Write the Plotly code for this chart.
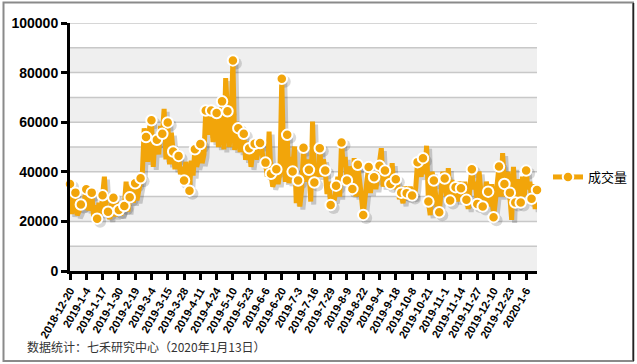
import plotly.graph_objects as go

# ---- data (成交量, one value per trading day) ----
volume = [
    35100, 23000, 28000, 31600, 22500, 24000, 26800, 25000, 29000, 33000, 24500, 27000,
    31600, 22000, 26500, 21100, 27500, 22500, 30500, 38000, 26000, 23900, 21000, 27000,
    29500, 22000, 27500, 24600, 22500, 25000, 26200, 36000, 24000, 29700, 35000, 27500,
    35400, 28500, 33000, 37400, 40000, 57500, 54000, 44000, 58000, 60800, 42000, 55000,
    52900, 47000, 58500, 55300, 65400, 45000, 59900, 43000, 55700, 48200, 41000, 48500,
    46400, 39000, 42000, 36500, 44000, 38000, 32400, 44500, 38500, 49100, 42000, 45000,
    51200, 43500, 47000, 64700, 55000, 60000, 64700, 52000, 64000, 63700, 50000, 58000,
    68400, 49000, 77800, 64400, 50000, 62000, 84900, 48800, 60000, 57600, 48000, 53000,
    55300, 44800, 52000, 49500, 42000, 48000, 51300, 45000, 48500, 51600, 49000, 43000,
    43700, 38000, 56200, 39200, 34000, 36500, 41000, 35000, 40000, 77500, 45000, 36000,
    54900, 35400, 46000, 40100, 50200, 27400, 36500, 26000, 33000, 49700, 36000, 45000,
    40800, 28000, 60300, 35700, 41000, 38000, 49500, 38000, 45000, 40500, 31000, 36000,
    26600, 30000, 28500, 34400, 38000, 30000, 51800, 42000, 46000, 36500, 42000, 40000,
    33100, 45500, 30000, 42800, 38000, 30000, 22600, 31000, 36000, 41900, 31400, 40000,
    37800, 33000, 38000, 42400, 49500, 34000, 40500, 34000, 38000, 35100, 43500, 33000,
    37000, 35000, 29000, 31600, 27300, 34000, 31400, 29000, 34000, 30400, 29500, 33500,
    43900, 40000, 38000, 45500, 39000, 50500, 28000, 22500, 40000, 36500, 31000, 25000,
    23700, 30000, 40000, 37300, 30000, 41500, 28400, 36700, 30000, 33800, 28000, 36000,
    33400, 30000, 36000, 28700, 25000, 35000, 41000, 33000, 36000, 27000, 40100, 32000,
    26000, 29000, 36000, 32000, 26000, 35000, 21700, 28000, 36000, 42100, 30000, 47500,
    35100, 30000, 40000, 31600, 20600, 42000, 27600, 33000, 37000, 27600, 38000, 30000,
    40500, 33000, 36000, 29100, 35000, 25000, 32700,
]
tick_labels = [
    "2018-12-20", "2019-1-4", "2019-1-17", "2019-1-30", "2019-2-19", "2019-3-4",
    "2019-3-15", "2019-3-28", "2019-4-11", "2019-4-24", "2019-5-10", "2019-5-23",
    "2019-6-6", "2019-6-20", "2019-7-3", "2019-7-16", "2019-7-29", "2019-8-9",
    "2019-8-22", "2019-9-4", "2019-9-18", "2019-10-8", "2019-10-21", "2019-11-1",
    "2019-11-14", "2019-11-27", "2019-12-10", "2019-12-23", "2020-1-6",
]
y_ticks = [0, 20000, 40000, 60000, 80000, 100000]
y_tick_labels = ["0", "20000", "40000", "60000", "80000", "100000"]
series_name = "成交量"
source_note = "数据统计：七禾研究中心（2020年1月13日）"

# ---- layout constants ----
W, H = 637, 364
L, R, T, B = 70, 100, 23, 93
PW, PH = W - L - R, H - T - B
ORANGE = "#F2A50A"
FONT = "Liberation Sans, Arial, sans-serif"
CJK = "Noto Sans CJK SC, sans-serif"

n = len(volume)
xs = list(range(n))
tick_step = 9
tickvals = [i * tick_step for i in range(len(tick_labels))]
mk_x = xs[::3]
mk_y = volume[::3]

xr = [0, n - 1]
yr = [0, 100000]
# shadow offset (pixels -> data units)
sdx = 3 * (xr[1] - xr[0]) / PW
sdy = 3 * (yr[1] - yr[0]) / PH

fig = go.Figure()

# shadow on base axes (drawn first, below)
fig.add_trace(go.Scatter(x=xs, y=volume, mode="lines", xaxis="x", yaxis="y",
                         line=dict(color="rgba(0,0,0,0.18)", width=5),
                         hoverinfo="skip", showlegend=False))
fig.add_trace(go.Scatter(x=mk_x, y=mk_y, mode="markers", xaxis="x", yaxis="y",
                         marker=dict(color="rgba(0,0,0,0.15)", size=12),
                         hoverinfo="skip", showlegend=False))

# main series on overlay axes
fig.add_trace(go.Scatter(x=xs, y=volume, mode="lines", xaxis="x2", yaxis="y2",
                         line=dict(color=ORANGE, width=5), showlegend=False))
fig.add_trace(go.Scatter(x=mk_x, y=mk_y, mode="markers", xaxis="x2", yaxis="y2",
                         marker=dict(color=ORANGE, size=10.5,
                                     line=dict(color="white", width=2)),
                         cliponaxis=False, showlegend=False))
# legend entry
fig.add_trace(go.Scatter(x=[None], y=[None], mode="lines+markers", name=series_name,
                         xaxis="x2", yaxis="y2",
                         line=dict(color=ORANGE, width=5),
                         marker=dict(color=ORANGE, size=10.5,
                                     line=dict(color="white", width=2))))

shapes = []
# alternating background bands
for lo in range(0, 100000, 20000):
    shapes.append(dict(type="rect", xref="paper", yref="y2", x0=0, x1=1,
                       y0=lo, y1=lo + 10000, fillcolor="#EFEFEF",
                       line=dict(width=0), layer="below"))
for g in range(10000, 100001, 10000):
    shapes.append(dict(type="line", xref="paper", yref="y2", x0=0, x1=1,
                       y0=g, y1=g, line=dict(color="#C8C8C8", width=1.5),
                       layer="below"))
# outer frame
def px(xp):
    return (xp - L) / PW
def py(yp):
    return (H - B - yp) / PH
shapes.append(dict(type="rect", xref="paper", yref="paper",
                   x0=px(3.5), x1=px(633), y0=py(361), y1=py(2.5),
                   line=dict(color="#8A8A8A", width=2), layer="below"))
shapes.append(dict(type="line", xref="paper", yref="paper",
                   x0=px(633.5), x1=px(633.5), y0=py(361), y1=py(3),
                   line=dict(color="#222222", width=1.5), layer="below"))

fig.update_layout(
    width=W, height=H,
    margin=dict(l=L, r=R, t=T, b=B, autoexpand=False),
    paper_bgcolor="white", plot_bgcolor="white",
    font=dict(family=FONT, color="#000000"),
    xaxis=dict(range=[xr[0] - sdx, xr[1] - sdx], visible=False, fixedrange=True,
               automargin=False),
    yaxis=dict(range=[yr[0] + sdy, yr[1] + sdy], visible=False, fixedrange=True,
               automargin=False),
    xaxis2=dict(overlaying="x", range=xr, tickmode="array", tickvals=tickvals,
                ticktext=tick_labels, tickangle=-60, showgrid=False, zeroline=False,
                showline=True, linecolor="#000000", linewidth=3,
                ticks="outside", ticklen=6, tickwidth=3, tickcolor="#000000",
                tickfont=dict(family=FONT, size=11, color="#000000", weight="bold"),
                side="bottom", anchor="y2", automargin=False),
    yaxis2=dict(overlaying="y", range=yr, tickmode="array",
                tickvals=y_ticks, ticktext=y_tick_labels, showgrid=False,
                zeroline=False, showline=True, linecolor="#000000", linewidth=3,
                ticks="outside", ticklen=6, tickwidth=3, tickcolor="#000000",
                tickfont=dict(family=FONT, size=14, color="#000000", weight="bold"),
                side="left", anchor="x2", automargin=False),
    legend=dict(x=px(548), y=py(177), xanchor="left", yanchor="middle",
                bgcolor="rgba(0,0,0,0)", font=dict(family=CJK, size=13, color="#000000"),
                itemwidth=30),
    shapes=shapes,
    annotations=[dict(text=source_note, xref="paper", yref="paper",
                      x=px(25), y=py(346), xanchor="left", yanchor="middle",
                      showarrow=False,
                      font=dict(family=CJK, size=12, color="#333333"))],
)

fig.write_html("out.html", config={"displayModeBar": False},
               post_script="document.body.style.margin='0';document.body.style.overflow='hidden';")
